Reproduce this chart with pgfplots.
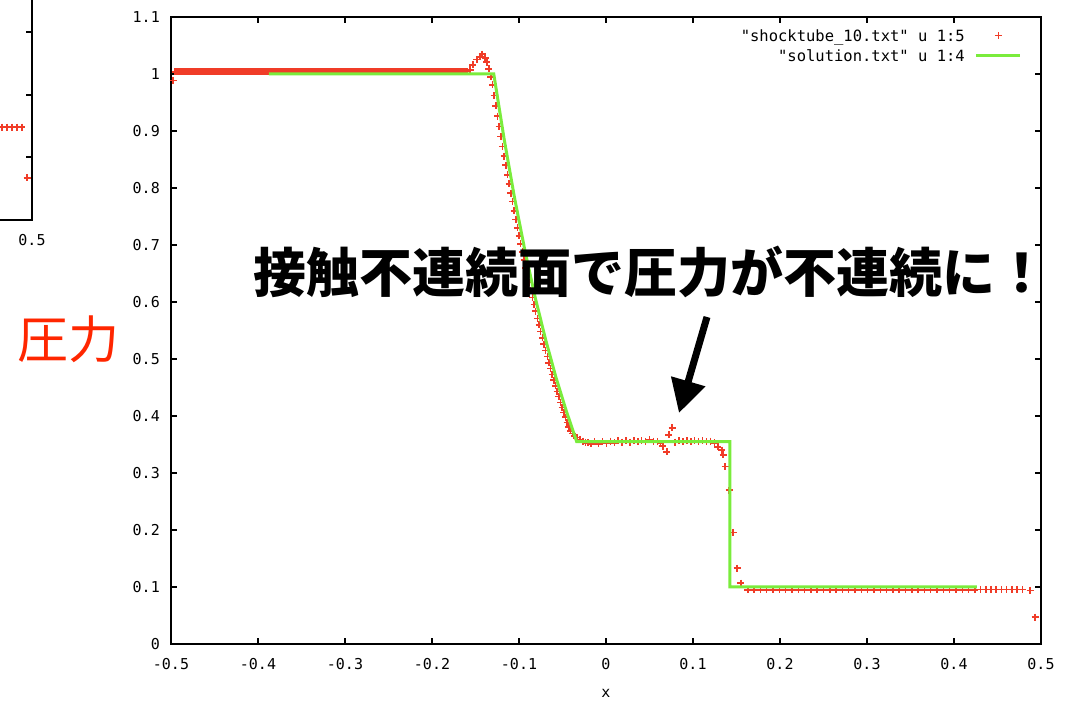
\documentclass[border=0pt]{standalone}
\usepackage{fontspec}
\usepackage{pgfplots}
\pgfplotsset{compat=1.18}
\usetikzlibrary{arrows.meta}
\newfontfamily\gpfont{DejaVu Sans Mono}
\newfontfamily\jp{Noto Sans CJK JP}
\definecolor{gpred}{RGB}{240,60,40}
\definecolor{gpgreen}{RGB}{122,236,60}
\definecolor{labred}{RGB}{255,38,0}
\pgfplotsset{
  gpstyle/.style={
    scale only axis,
    clip mode=individual,
    axis line style={line width=2.6pt},
    major tick length=6pt,
    every tick/.style={black,line width=2pt},
    xticklabel style={font=\gpfont\fontsize{15}{15}\selectfont, inner sep=0pt, anchor=center, yshift=-20pt},
    yticklabel style={font=\gpfont\fontsize{15}{15}\selectfont, inner sep=0pt, anchor=east, xshift=-11pt},
  }
}
\begin{document}
\begin{tikzpicture}
\useasboundingbox (0pt,0pt) rectangle (1072pt,703pt);
% partial axis on the left (cut by the page edge)
\begin{axis}[gpstyle, at={(32pt,483pt)}, anchor=south east,
  width=870pt, height=690pt, xmin=-0.5, xmax=0.5, ymin=0, ymax=1.1,
  xtick={0.5}, xticklabels={0.5},
  ytick={0.1,0.2,0.3,0.4,0.5,0.6,0.7,0.8,0.9,1.0}, yticklabels={}]
\addplot[only marks, mark=+, mark size=3.5pt, gpred, line width=1.5pt] coordinates {
(0.4598,0.148) (0.4655,0.148) (0.4713,0.148) (0.4770,0.148) (0.4828,0.148) (0.4885,0.148) (0.4943,0.067)};
\end{axis}
% main axis
\begin{axis}[gpstyle, at={(171pt,59pt)}, anchor=south west,
  width=870pt, height=627pt, xmin=-0.5, xmax=0.5, ymin=0, ymax=1.1,
  xtick={-0.5,-0.4,-0.3,-0.2,-0.1,0,0.1,0.2,0.3,0.4,0.5},
  xticklabels={-0.5,-0.4,-0.3,-0.2,-0.1,0,0.1,0.2,0.3,0.4,0.5},
  ytick={0,0.1,0.2,0.3,0.4,0.5,0.6,0.7,0.8,0.9,1,1.1},
  yticklabels={0,0.1,0.2,0.3,0.4,0.5,0.6,0.7,0.8,0.9,1,1.1},
  xlabel={x},
  x label style={font=\gpfont\fontsize{15}{15}\selectfont, inner sep=0pt, at={(axis description cs:0.5,0)}, anchor=center, yshift=-49pt},
  legend style={draw=none, fill=none, at={(1,1)}, anchor=north east, xshift=-19pt, yshift=-13pt,
    font=\gpfont\fontsize{15.5}{15.5}\selectfont, inner sep=0pt, row sep=9pt,
    nodes={inner sep=0pt, text height=11pt, text depth=0pt},
    /tikz/every odd column/.append style={column sep=10pt}},
  legend cell align=right, legend plot pos=right]
% dense left plateau of the numerical data
\addplot[forget plot, only marks, mark=+, mark size=3.5pt, gpred, line width=2.4pt] coordinates {
(-0.4950,1.004) (-0.4925,1.004) (-0.4900,1.004) (-0.4875,1.004) (-0.4850,1.004) (-0.4825,1.004) (-0.4800,1.004) (-0.4775,1.004)
(-0.4750,1.004) (-0.4725,1.004) (-0.4700,1.004) (-0.4675,1.004) (-0.4650,1.004) (-0.4625,1.004) (-0.4600,1.004) (-0.4575,1.004)
(-0.4550,1.004) (-0.4525,1.004) (-0.4500,1.004) (-0.4475,1.004) (-0.4450,1.004) (-0.4425,1.004) (-0.4400,1.004) (-0.4375,1.004)
(-0.4350,1.004) (-0.4325,1.004) (-0.4300,1.004) (-0.4275,1.004) (-0.4250,1.004) (-0.4225,1.004) (-0.4200,1.004) (-0.4175,1.004)
(-0.4150,1.004) (-0.4125,1.004) (-0.4100,1.004) (-0.4075,1.004) (-0.4050,1.004) (-0.4025,1.004) (-0.4000,1.004) (-0.3975,1.004)
(-0.3950,1.004) (-0.3925,1.004) (-0.3900,1.004) (-0.3875,1.004) (-0.3850,1.004) (-0.3825,1.004) (-0.3800,1.004) (-0.3775,1.004)
(-0.3750,1.004) (-0.3725,1.004) (-0.3700,1.004) (-0.3675,1.004) (-0.3650,1.004) (-0.3625,1.004) (-0.3600,1.004) (-0.3575,1.004)
(-0.3550,1.004) (-0.3525,1.004) (-0.3500,1.004) (-0.3475,1.004) (-0.3450,1.004) (-0.3425,1.004) (-0.3400,1.004) (-0.3375,1.004)
(-0.3350,1.004) (-0.3325,1.004) (-0.3300,1.004) (-0.3275,1.004) (-0.3250,1.004) (-0.3225,1.004) (-0.3200,1.004) (-0.3175,1.004)
(-0.3150,1.004) (-0.3125,1.004) (-0.3100,1.004) (-0.3075,1.004) (-0.3050,1.004) (-0.3025,1.004) (-0.3000,1.004) (-0.2975,1.004)
(-0.2950,1.004) (-0.2925,1.004) (-0.2900,1.004) (-0.2875,1.004) (-0.2850,1.004) (-0.2825,1.004) (-0.2800,1.004) (-0.2775,1.004)
(-0.2750,1.004) (-0.2725,1.004) (-0.2700,1.004) (-0.2675,1.004) (-0.2650,1.004) (-0.2625,1.004) (-0.2600,1.004) (-0.2575,1.004)
(-0.2550,1.004) (-0.2525,1.004) (-0.2500,1.004) (-0.2475,1.004) (-0.2450,1.004) (-0.2425,1.004) (-0.2400,1.004) (-0.2375,1.004)
(-0.2350,1.004) (-0.2325,1.004) (-0.2300,1.004) (-0.2275,1.004) (-0.2250,1.004) (-0.2225,1.004) (-0.2200,1.004) (-0.2175,1.004)
(-0.2150,1.004) (-0.2125,1.004) (-0.2100,1.004) (-0.2075,1.004) (-0.2050,1.004) (-0.2025,1.004) (-0.2000,1.004) (-0.1975,1.004)
(-0.1950,1.004) (-0.1925,1.004) (-0.1900,1.004) (-0.1875,1.004) (-0.1850,1.004) (-0.1825,1.004) (-0.1800,1.004) (-0.1775,1.004)
(-0.1750,1.004) (-0.1725,1.004) (-0.1700,1.004) (-0.1675,1.004) (-0.1650,1.004) (-0.1625,1.004)
};
\addplot[only marks, mark=+, mark size=3.5pt, gpred, line width=1.5pt,
  legend image code/.code={\path[draw=none] (0pt,0pt) -- (44pt,0pt); \draw[gpred, mark=+, mark size=3.5pt, line width=1.5pt] plot coordinates {(22pt,0pt)};}] coordinates {
(-0.4977,0.989)
(-0.1595,1.004) (-0.1563,1.007) (-0.1529,1.016) (-0.1483,1.025) (-0.1448,1.030) (-0.1425,1.035) (-0.1390,1.028) (-0.1368,1.021) (-0.1345,1.009) (-0.1322,0.995)
(-0.1304,0.981) (-0.1285,0.962) (-0.1266,0.944) (-0.1247,0.926) (-0.1228,0.908) (-0.1209,0.890) (-0.1190,0.873) (-0.1171,0.856)
(-0.1151,0.840) (-0.1132,0.823) (-0.1113,0.807) (-0.1094,0.791) (-0.1075,0.776) (-0.1056,0.760) (-0.1037,0.745) (-0.1018,0.730)
(-0.0999,0.716) (-0.0980,0.702) (-0.0961,0.688) (-0.0942,0.674) (-0.0923,0.660) (-0.0904,0.647) (-0.0885,0.634) (-0.0866,0.621)
(-0.0847,0.608) (-0.0827,0.596) (-0.0808,0.584) (-0.0789,0.571) (-0.0770,0.560) (-0.0751,0.548) (-0.0732,0.537) (-0.0713,0.526)
(-0.0694,0.515) (-0.0675,0.504) (-0.0656,0.493) (-0.0637,0.483) (-0.0618,0.473) (-0.0599,0.463) (-0.0580,0.453) (-0.0561,0.443)
(-0.0542,0.434) (-0.0522,0.424) (-0.0503,0.415) (-0.0484,0.406) (-0.0465,0.398) (-0.0446,0.389) (-0.0427,0.381) (-0.0408,0.374)
(-0.0386,0.369) (-0.0365,0.365) (-0.0336,0.362) (-0.0299,0.359) (-0.0264,0.356) (-0.0235,0.354) (-0.0207,0.353)
(-0.0175,0.351) (-0.0130,0.355) (-0.0085,0.351) (-0.0040,0.355) (0.0005,0.352) (0.0050,0.356) (0.0095,0.353) (0.0140,0.357)
(0.0185,0.354) (0.0230,0.357) (0.0275,0.354) (0.0320,0.357) (0.0365,0.355) (0.0410,0.357) (0.0455,0.355) (0.0500,0.358)
(0.0545,0.356) (0.0590,0.355) (0.0625,0.352) (0.0655,0.347) (0.0700,0.337) (0.0724,0.367) (0.0759,0.379) (0.0795,0.354)
(0.0840,0.357) (0.0885,0.355) (0.0930,0.357) (0.0975,0.355) (0.1020,0.357) (0.1065,0.355) (0.1110,0.357) (0.1155,0.355)
(0.1200,0.356) (0.1245,0.353) (0.1287,0.346) (0.1333,0.340) (0.1345,0.332) (0.1368,0.311) (0.1414,0.270) (0.1460,0.196)
(0.1507,0.133) (0.1550,0.107)
(0.16300,0.095) (0.17025,0.095) (0.17750,0.095) (0.18475,0.095) (0.19200,0.095) (0.19925,0.095) (0.20650,0.095) (0.21375,0.095)
(0.22100,0.095) (0.22825,0.095) (0.23550,0.095) (0.24275,0.095) (0.25000,0.095) (0.25725,0.095) (0.26450,0.095) (0.27175,0.095)
(0.27900,0.095) (0.28625,0.095) (0.29350,0.095) (0.30075,0.095) (0.30800,0.095) (0.31525,0.095) (0.32250,0.095) (0.32975,0.095)
(0.33700,0.095) (0.34425,0.095) (0.35150,0.095) (0.35875,0.095) (0.36600,0.095) (0.37325,0.095) (0.38050,0.095) (0.38775,0.095)
(0.39500,0.095) (0.40225,0.095) (0.40950,0.095) (0.41675,0.095) (0.42400,0.095)
(0.4304,0.096) (0.4365,0.096) (0.4425,0.096) (0.4485,0.096) (0.4545,0.096) (0.4605,0.096) (0.4665,0.096) (0.4725,0.096)
(0.4785,0.096) (0.4874,0.094) (0.4931,0.047)
};
\addlegendentry{"shocktube\textunderscore 10.txt" u 1:5}
\addplot[gpgreen, line width=3pt, line join=miter,
  legend image code/.code={\draw[gpgreen, line width=3pt] (0pt,0pt) -- (44pt,0pt);}] coordinates {
(-0.3874,1) (-0.129,1) (-0.1171,0.886) (-0.1052,0.7833) (-0.0933,0.691) (-0.0814,0.608) (-0.0694,0.534)
(-0.0575,0.4676) (-0.0456,0.4086) (-0.0337,0.355) (0.1425,0.355) (0.1425,0.1) (0.4264,0.1)};
\addlegendentry{"solution.txt" u 1:4}
\end{axis}
\node[anchor=base west, inner sep=0pt, font=\jp\bfseries\fontsize{53}{53}\selectfont] at (253pt,410pt) {接触不連続面で圧力が不連続に！};
\node[anchor=base west, inner sep=0pt, text=labred, font=\jp\fontsize{51}{51}\selectfont] at (17pt,344pt) {圧力};
\draw[line width=7pt, -{Triangle[length=33pt,width=34pt]}] (707pt,386pt) -- (679pt,290pt);
\end{tikzpicture}
\end{document}
